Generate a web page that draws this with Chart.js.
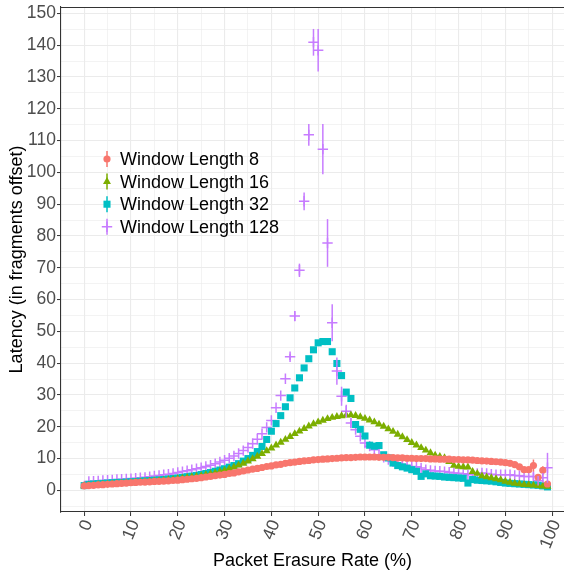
<!DOCTYPE html>
<html>
<head>
<meta charset="utf-8">
<script src="https://cdn.jsdelivr.net/npm/chart.js@4/dist/chart.umd.min.js"></script>
<style>
html,body{margin:0;padding:0;background:#fff;overflow:hidden;}
#wrap{width:564px;height:572px;position:relative;}
</style>
</head>
<body>
<div id="wrap"><canvas id="c" width="564" height="572"></canvas></div>
<script>
// ---- Data ----
const erasureRate = [0,1,2,3,4,5,6,7,8,9,10,11,12,13,14,15,16,17,18,19,20,21,22,23,24,25,26,27,28,29,30,31,32,33,34,35,36,37,38,39,40,41,42,43,44,45,46,47,48,49,50,51,52,53,54,55,56,57,58,59,60,61,62,63,64,65,66,67,68,69,70,71,72,73,74,75,76,77,78,79,80,81,82,83,84,85,86,87,88,89,90,91,92,93,94,95,96,97,98,99];

const seriesLabels = ["Window Length 8","Window Length 16","Window Length 32","Window Length 128"];

const latencyW8 = [1.4,1.5,1.6,1.7,1.8,1.9,2.0,2.1,2.2,2.3,
2.4,2.5,2.55,2.6,2.7,2.8,2.85,2.9,3.0,3.1,
3.2,3.35,3.5,3.65,3.8,4.0,4.2,4.4,4.6,4.8,
5.0,5.3,5.5,5.8,6.1,6.4,6.7,6.9,7.2,7.5,
7.7,8.0,8.2,8.5,8.7,8.9,9.1,9.3,9.4,9.6,
9.7,9.8,9.9,10.0,10.1,10.2,10.3,10.3,10.4,10.5,
10.5,10.5,10.5,10.4,10.4,10.4,10.3,10.2,10.2,10.1,
10.1,10.0,10.0,10.0,9.9,9.9,9.8,9.8,9.8,9.7,
9.7,9.6,9.6,9.5,9.4,9.3,9.2,9.1,9.0,8.9,
8.7,8.5,8.1,7.4,6.5,6.5,7.8,4.1,6.3,2.0];

const latencyW16 = [1.4,1.5,1.6,1.7,1.8,1.9,2.0,2.1,2.2,2.3,
2.4,2.5,2.6,2.7,2.8,2.9,3.0,3.1,3.3,3.4,
3.6,3.8,4.0,4.2,4.4,4.6,4.9,5.2,5.5,5.9,
6.3,6.8,7.3,7.9,8.5,9.2,9.9,10.7,11.5,12.4,
13.3,14.2,15.1,16.0,16.9,17.8,18.6,19.4,20.2,20.9,
21.5,22.0,22.5,22.9,23.2,23.4,23.6,23.7,23.5,23.1,
22.6,22.1,21.5,20.8,20.1,19.3,18.5,17.6,16.8,15.9,
15.0,14.2,13.4,12.6,11.8,11.0,10.6,10.2,9.0,7.8,
7.5,7.4,7.3,5.9,5.3,4.5,4.2,3.9,3.6,3.3,
2.8,2.5,2.2,2.0,1.8,1.7,1.6,1.5,1.3,1.2];

const latencyW32 = [1.5,1.9,2.0,2.1,2.2,2.3,2.4,2.5,2.5,2.6,
2.7,2.8,2.9,3.0,3.1,3.2,3.3,3.4,3.6,3.7,
3.9,4.1,4.3,4.5,4.7,5.0,5.3,5.6,6.0,6.4,
6.8,7.3,7.8,8.4,9.2,10.0,11.0,12.2,13.8,16.0,
18.6,21.0,23.5,26.3,29.1,32.2,35.4,38.5,41.4,44.2,
46.4,46.8,46.8,43.6,39.9,36.1,30.9,28.9,20.7,19.2,
17.1,14.2,13.9,14.1,11.2,10.2,8.6,7.8,7.4,7.0,
6.5,6.0,4.4,5.2,4.6,4.5,4.4,4.2,4.1,4.0,
3.9,3.8,2.3,3.4,3.2,3.1,3.0,2.9,2.7,2.5,
2.3,2.2,2.1,2.0,1.9,1.8,1.7,1.6,1.4,1.1];

const latencyW128 = [null,2.8,2.9,3.0,3.1,3.2,3.3,3.4,3.5,3.6,
3.7,3.8,4.0,4.1,4.3,4.5,4.7,4.9,5.1,5.3,
5.6,5.9,6.2,6.5,6.8,7.1,7.5,7.9,8.4,8.9,
9.5,10.1,10.8,11.6,12.5,13.5,14.7,16.1,17.8,19.8,
22.0,26.0,29.8,35.1,42.0,54.8,69.2,90.9,111.8,140.9,
138.4,107.3,77.8,52.7,37.5,29.6,24.9,21.2,19.1,17.0,
14.9,13.9,12.8,11.2,10.4,9.7,9.0,8.6,8.1,7.8,
7.5,7.4,7.0,6.5,6.3,6.1,6.0,5.9,5.7,5.5,
5.4,5.2,4.9,5.1,5.3,5.5,5.3,5.1,4.9,4.9,
4.9,4.9,4.7,4.6,4.4,4.4,4.4,3.0,4.0,7.1];

// half-widths of the visible error bars, keyed by erasure rate
const errW8 = {94:0.6,95:0.6,96:1.9,97:0.8,98:1.3};
const errW32 = {51:0.8,52:0.8,56:1.0,57:1.0};
const errW128 = {44:1.0,45:1.5,46:2.1,47:2.8,48:3.4,49:4.2,50:6.7,51:7.9,52:7.5,53:5.8,54:4.3,55:3.0,56:2.0,57:1.5,96:1.2,97:1.5,98:1.5,99:4.7};

const xTickLabels = [0,10,20,30,40,50,60,70,80,90,100];
const xMinor = [5,15,25,35,45,55,65,75,85,95];
const yTickLabels = [0,10,20,30,40,50,60,70,80,90,100,110,120,130,140,150];
const yMinor = [-5,5,15,25,35,45,55,65,75,85,95,105,115,125,135,145];

const seriesColors = ["#F8766D","#7CAE00","#00BFC4","#C77CFF"];

// ---- Build datasets ----
function pts(vals){ return erasureRate.map((x,i)=>({x:x,y:vals[i]})).filter(p=>p.y!==null); }
const allErr = [errW8,{},errW32,errW128];

const datasets = [
 {label:seriesLabels[0], data:pts(latencyW8), pointStyle:'circle', pointRadius:3.6, backgroundColor:seriesColors[0], borderColor:seriesColors[0], borderWidth:0},
 {label:seriesLabels[1], data:pts(latencyW16), pointStyle:'triangle', pointRadius:4.6, backgroundColor:seriesColors[1], borderColor:seriesColors[1], borderWidth:0},
 {label:seriesLabels[2], data:pts(latencyW32), pointStyle:'rect', pointRadius:5.0, backgroundColor:seriesColors[2], borderColor:seriesColors[2], borderWidth:0},
 {label:seriesLabels[3], data:pts(latencyW128), pointStyle:'cross', pointRadius:5.2, backgroundColor:seriesColors[3], borderColor:seriesColors[3], borderWidth:1.5}
];

const errorBars = {
  id:'errorBars',
  afterDatasetsDraw(chart){
    const ctx = chart.ctx, xs = chart.scales.x, ys = chart.scales.y, a = chart.chartArea;
    ctx.save();
    ctx.beginPath(); ctx.rect(a.left,a.top,a.right-a.left,a.bottom-a.top); ctx.clip();
    allErr.forEach((errs,di)=>{
      const vals = [latencyW8,latencyW16,latencyW32,latencyW128][di];
      ctx.strokeStyle = seriesColors[di]; ctx.lineWidth = 1.5;
      Object.keys(errs).forEach(k=>{
        const i = erasureRate.indexOf(+k); const v = vals[i]; if(v===null) return;
        const px = xs.getPixelForValue(+k);
        ctx.beginPath();
        ctx.moveTo(px, ys.getPixelForValue(v-errs[k]));
        ctx.lineTo(px, ys.getPixelForValue(v+errs[k]));
        ctx.stroke();
      });
    });
    ctx.restore();
  }
};

const panelBorder = {
  id:'panelBorder',
  afterDatasetsDraw(chart){
    const ctx = chart.ctx, a = chart.chartArea;
    ctx.save(); ctx.strokeStyle='#333333'; ctx.lineWidth=1.1;
    ctx.beginPath(); ctx.moveTo(a.left,a.top+0.5); ctx.lineTo(a.right,a.top+0.5); ctx.stroke();
    ctx.restore();
  }
};

const ggLegend = {
  id:'ggLegend',
  afterDraw(chart){
    const ctx = chart.ctx, a = chart.chartArea;
    const x0 = a.left + 46, y0 = a.top + 152, dy = 22.6;
    chart.data.datasets.forEach((ds,i)=>{
      const y = y0 + i*dy;
      ctx.save();
      ctx.strokeStyle = ds.borderColor; ctx.fillStyle = ds.backgroundColor; ctx.lineWidth = 1.5;
      ctx.beginPath(); ctx.moveTo(x0,y-8); ctx.lineTo(x0,y+8); ctx.stroke();
      Chart.helpers.drawPoint(ctx,{pointStyle:ds.pointStyle,radius:ds.pointRadius,borderWidth:ds.borderWidth,rotation:0},x0,y);
      ctx.fillStyle = '#000'; ctx.font = '18px "Liberation Sans", Arial, sans-serif';
      ctx.textBaseline = 'middle'; ctx.textAlign = 'left';
      ctx.fillText(ds.label, x0 + 13, y + 1);
      ctx.restore();
    });
  }
};

const tickFont = {family:'"Liberation Sans", Arial, sans-serif', size:17.5};
const titleFont = {family:'"Liberation Sans", Arial, sans-serif', size:18};

new Chart(document.getElementById('c'), {
  type:'scatter',
  data:{datasets:datasets},
  plugins:[errorBars,panelBorder,ggLegend],
  options:{
    responsive:false, animation:false, devicePixelRatio:1,
    layout:{autoPadding:false, padding:{top:7,right:0,bottom:0,left:0}},
    plugins:{legend:{display:false}, tooltip:{enabled:false}},
    scales:{
      x:{
        type:'linear', min:-4.95, max:102.53,
        afterBuildTicks(s){ s.ticks = xTickLabels.concat(xMinor).sort((p,q)=>p-q).map(v=>({value:v})); },
        afterFit(s){ s.height = 60; s.paddingLeft = 0; s.paddingRight = 0; },
        ticks:{autoSkip:false, minRotation:68, maxRotation:68, padding:1, labelOffset:4, color:'#4d4d4d', font:tickFont,
          callback:(v)=> xTickLabels.includes(v) ? String(v) : ''},
        grid:{color:'#ebebeb', lineWidth:(c)=> xTickLabels.includes(c.tick.value)?1.1:0.6,
          tickLength:4, tickColor:(c)=> xTickLabels.includes(c.tick.value)?'#333333':'rgba(0,0,0,0)', tickWidth:1},
        border:{display:true, color:'#333333', width:1.1},
        title:{display:true, text:'Packet Erasure Rate (%)', color:'#000', font:titleFont, padding:{top:0,bottom:0}}
      },
      y:{
        type:'linear', min:-6.8, max:152.0,
        afterBuildTicks(s){ s.ticks = yTickLabels.concat(yMinor).sort((p,q)=>p-q).map(v=>({value:v})); },
        afterFit(s){ s.width = 61; s.paddingTop = 0; s.paddingBottom = 0; },
        ticks:{autoSkip:false, padding:1, color:'#4d4d4d', font:tickFont,
          callback:(v)=> yTickLabels.includes(v) ? String(v) : ''},
        grid:{color:'#ebebeb', lineWidth:(c)=> yTickLabels.includes(c.tick.value)?1.1:0.6,
          tickLength:4, tickColor:(c)=> yTickLabels.includes(c.tick.value)?'#333333':'rgba(0,0,0,0)', tickWidth:1},
        border:{display:true, color:'#333333', width:1.1},
        title:{display:true, text:'Latency (in fragments offset)', color:'#000', font:titleFont, padding:{top:6,bottom:0}}
      }
    }
  }
});
</script>
</body>
</html>
